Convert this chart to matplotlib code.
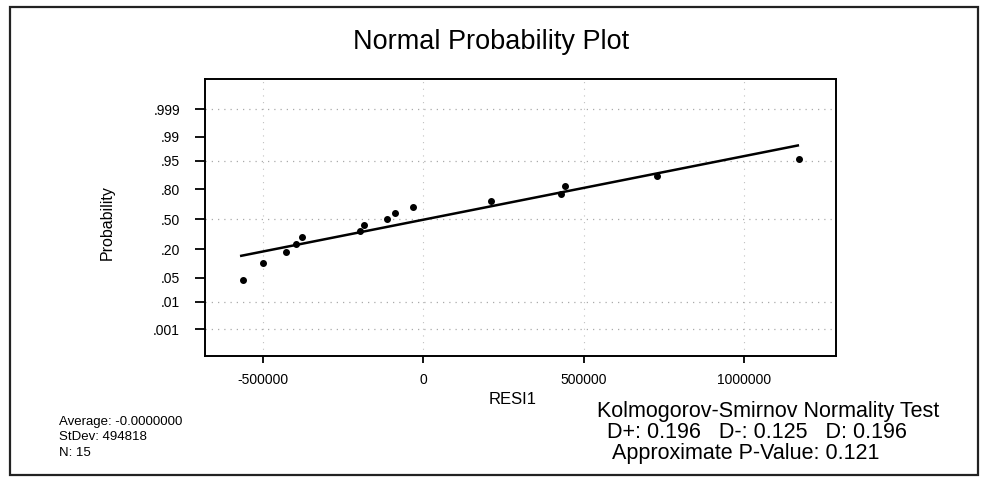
import numpy as np
import matplotlib
matplotlib.use("Agg")
import matplotlib.pyplot as plt
from matplotlib.patches import Rectangle
from statistics import NormalDist

# -----------------------------
# DATA
# -----------------------------
resid = [-561700, -500600, -426800, -395600, -377900, -196300, -183800,
         -111200, -87200, -30200, 210900, 429900, 442400, 728000, 1172300]
prob = [0.045, 0.11, 0.175, 0.24, 0.305, 0.37, 0.435, 0.50,
        0.565, 0.63, 0.695, 0.76, 0.825, 0.89, 0.955]

fit_x = [-567000, 1168000]
fit_p = [0.152, 0.981]

ytick_vals = [0.001, 0.01, 0.05, 0.20, 0.50, 0.80, 0.95, 0.99, 0.999]
ytick_labels = [".001", ".01", ".05", ".20", ".50", ".80", ".95", ".99", ".999"]
ygrid_vals = [0.001, 0.01, 0.50, 0.95, 0.999]
xtick_vals = [-500000, 0, 500000, 1000000]
xtick_labels = ["-500000", "0", "500000", "1000000"]

stats_lines = ["Average: -0.0000000", "StDev: 494818", "N: 15"]
ks_title = "Kolmogorov-Smirnov Normality Test"
ks_line1 = "D+: 0.196   D-: 0.125   D: 0.196"
ks_line2 = "Approximate P-Value: 0.121"

# -----------------------------
# NORMAL PROBABILITY SCALE
# -----------------------------
_nd = NormalDist()
_inv = np.vectorize(_nd.inv_cdf, otypes=[float])
_cdf = np.vectorize(_nd.cdf, otypes=[float])


def to_z(p):
    p = np.clip(np.asarray(p, dtype=float), 1e-12, 1 - 1e-12)
    return _inv(p)


def from_z(z):
    return _cdf(np.asarray(z, dtype=float))


plt.rcParams["font.family"] = ["Liberation Sans", "DejaVu Sans"]

W, H = 981, 478
fig = plt.figure(figsize=(W / 100, H / 100), dpi=100)
fig.patch.set_facecolor("white")

# outer frame
fig.patches.append(Rectangle((10 / W, 1 - 475 / H), 968 / W, 468 / H,
                             transform=fig.transFigure, fill=False,
                             edgecolor="#222222", linewidth=1.6))

ax = fig.add_axes([205 / W, 1 - 356 / H, 631 / W, 277 / H])
ax.set_yscale("function", functions=(to_z, from_z))
ax.set_ylim(6e-5, 0.99996)
ax.set_xlim(-680000, 1287000)

# grid
for g in ygrid_vals:
    ax.axhline(g, color="#aaaaaa", linestyle=(0, (1, 4)), linewidth=0.9, zorder=0)
for g in xtick_vals:
    ax.axvline(g, color="#c0c0c0", linestyle=(0, (1, 5)), linewidth=0.8, zorder=0)

ax.plot(fit_x, fit_p, color="black", linewidth=1.8, zorder=2)
ax.plot(resid, prob, "o", color="black", markersize=4, zorder=3)

ax.set_yticks(ytick_vals)
ax.set_yticklabels(ytick_labels)
ax.yaxis.set_minor_locator(matplotlib.ticker.NullLocator())
ax.set_xticks(xtick_vals)
ax.set_xticklabels(xtick_labels)
ax.tick_params(axis="y", direction="out", length=7, width=1.3, pad=11,
               labelsize=10)
ax.tick_params(axis="x", direction="out", length=5, width=1.3, pad=7,
               labelsize=10)
for s in ax.spines.values():
    s.set_linewidth(1.4)

# -----------------------------
# TEXTS
# -----------------------------
fig.text(491 / W, 1 - 42 / H, "Normal Probability Plot", ha="center",
         va="center", fontsize=19.5)
fig.text(107 / W, 1 - 223 / H, "Probability", rotation=90, ha="center",
         va="center", fontsize=11.5)
fig.text(513 / W, 1 - 400 / H, "RESI1", ha="center", va="center", fontsize=12)

for i, t in enumerate(stats_lines):
    fig.text(59 / W, 1 - (422 + i * 15.5) / H, t, ha="left", va="center",
             fontsize=9.5)

fig.text(597 / W, 1 - 412 / H, ks_title, ha="left", va="center", fontsize=15.5)
fig.text(607 / W, 1 - 433 / H, ks_line1, ha="left", va="center", fontsize=15.5)
fig.text(612 / W, 1 - 454 / H, ks_line2, ha="left", va="center", fontsize=15.5)

fig.savefig("out.png", dpi=100)
